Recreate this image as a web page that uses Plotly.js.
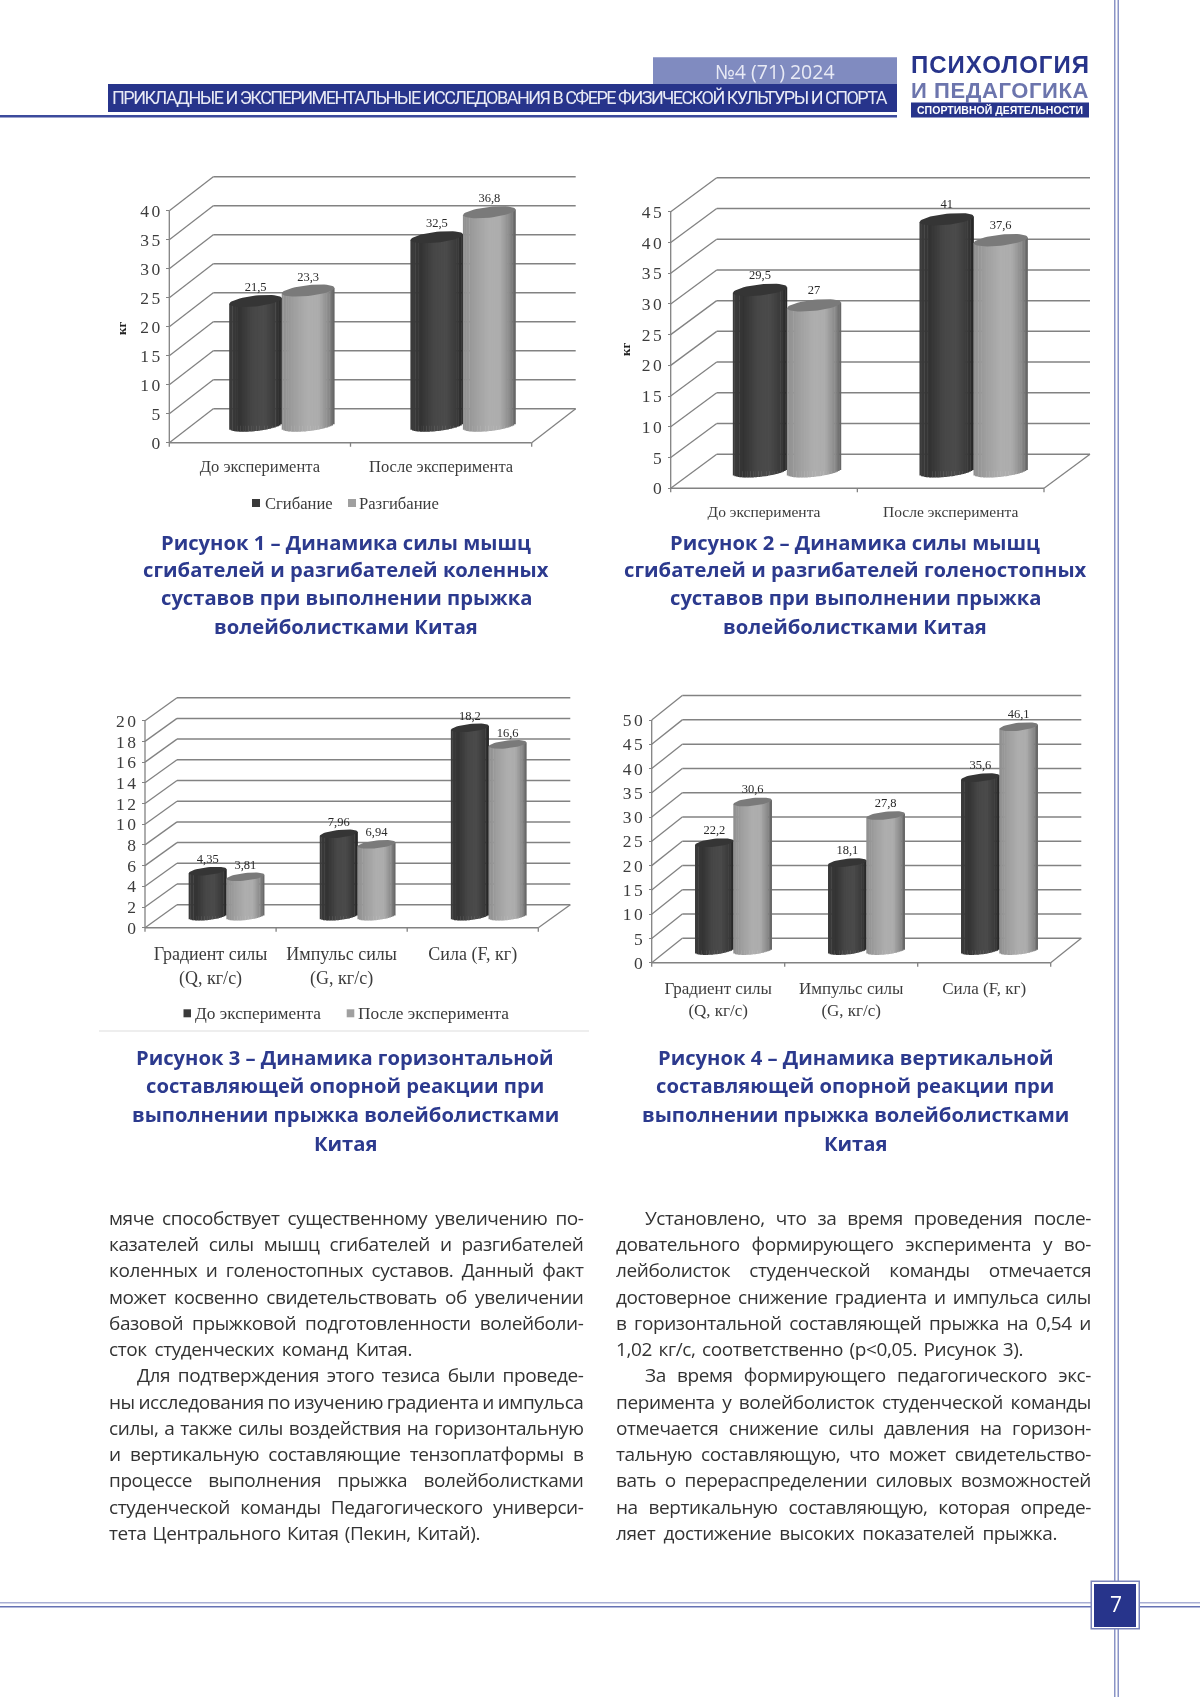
<!DOCTYPE html>
<html><head><meta charset="utf-8">
<script src="https://cdn.plot.ly/plotly-3.0.1.min.js"></script>
<style>html,body{margin:0;padding:0;background:#fff}#gd{width:1200px;height:1697px;filter:blur(0.35px)}</style>
</head><body><div id="gd"></div>
<script>
// ---------- chart data ----------
const cats1 = ["До эксперимента", "После эксперимента"];
const names1 = ["Сгибание", "Разгибание"];
const vals1a = [21.5, 32.5];
const vals1b = [23.3, 36.8];
const ticks1 = [0, 5, 10, 15, 20, 25, 30, 35, 40];

const cats2 = ["До эксперимента", "После эксперимента"];
const names2 = ["Сгибание", "Разгибание"];
const vals2a = [29.5, 41];
const vals2b = [27, 37.6];
const ticks2 = [0, 5, 10, 15, 20, 25, 30, 35, 40, 45];

const cats3 = ["Градиент силы<br>(Q, кг/с)", "Импульс силы<br>(G, кг/с)", "Сила (F, кг)"];
const names3 = ["До эксперимента", "После эксперимента"];
const vals3a = [4.35, 7.96, 18.2];
const vals3b = [3.81, 6.94, 16.6];
const ticks3 = [0, 2, 4, 6, 8, 10, 12, 14, 16, 18, 20];

const cats4 = ["Градиент силы<br>(Q, кг/с)", "Импульс силы<br>(G, кг/с)", "Сила (F, кг)"];
const names4 = ["До эксперимента", "После эксперимента"];
const vals4a = [22.2, 18.1, 35.6];
const vals4b = [30.6, 27.8, 46.1];
const ticks4 = [0, 5, 10, 15, 20, 25, 30, 35, 40, 45, 50];

// ---------- page text ----------
const caption1 = ["Рисунок 1 – Динамика силы мышц", "сгибателей и разгибателей коленных", "суставов при выполнении прыжка", "волейболистками Китая"];
const caption2 = ["Рисунок 2 – Динамика силы мышц", "сгибателей и разгибателей голеностопных", "суставов при выполнении прыжка", "волейболистками Китая"];
const caption3 = ["Рисунок 3 – Динамика горизонтальной", "составляющей опорной реакции при", "выполнении прыжка волейболистками", "Китая"];
const caption4 = ["Рисунок 4 – Динамика вертикальной", "составляющей опорной реакции при", "выполнении прыжка волейболистками", "Китая"];
const bodyLeft = [
 ["мяче способствует существенному увеличению по-", 109, 583.5],
 ["казателей силы мышц сгибателей и разгибателей", 109, 583.5],
 ["коленных и голеностопных суставов. Данный факт", 109, 583.5],
 ["может косвенно свидетельствовать об увеличении", 109, 583.5],
 ["базовой прыжковой подготовленности волейболи-", 109, 583.5],
 ["сток студенческих команд Китая.", 109, 412],
 ["Для подтверждения этого тезиса были проведе-", 137, 583.5],
 ["ны исследования по изучению градиента и импульса", 109, 583.5],
 ["силы, а также силы воздействия на горизонтальную", 109, 583.5],
 ["и вертикальную составляющие тензоплатформы в", 109, 583.5],
 ["процессе выполнения прыжка волейболистками", 109, 583.5],
 ["студенческой команды Педагогического универси-", 109, 583.5],
 ["тета Центрального Китая (Пекин, Китай).", 109, 480]
];
const bodyRight = [
 ["Установлено, что за время проведения после-", 645, 1091],
 ["довательного формирующего эксперимента у во-", 616, 1091],
 ["лейболисток студенческой команды отмечается", 616, 1091],
 ["достоверное снижение градиента и импульса силы", 616, 1091],
 ["в горизонтальной составляющей прыжка на 0,54 и", 616, 1091],
 ["1,02 кг/с, соответственно (p<0,05. Рисунок 3).", 616, 1023],
 ["За время формирующего педагогического экс-", 645, 1091],
 ["перимента у волейболисток студенческой команды", 616, 1091],
 ["отмечается снижение силы давления на горизон-", 616, 1091],
 ["тальную составляющую, что может свидетельство-", 616, 1091],
 ["вать о перераспределении силовых возможностей", 616, 1091],
 ["на вертикальную составляющую, которая опреде-", 616, 1091],
 ["ляет достижение высоких показателей прыжка.", 616, 1057]
];

// ---------- layout constants ----------
const W = 1200, H = 1697;
const px = x => x / W, py = y => 1 - y / H;
const SERIF = "Liberation Serif", SANS = "Open Sans", ARIAL = "Liberation Sans", CONDENSED = "Roboto";
const NAVY = "#27348b", CHARTTXT = "#3c3c3c", GRID = "#828282";

const frames = [
 {id:"",  cats:cats1, names:names1, a:vals1a, b:vals1b, ticks:ticks1, x0:169.3, y0:442.7, yTop:210.7, xEnd:531.7,  dx:44,   dy:34,   barW:52.5, tickFont:17.5, catFont:16.5, lblFont:12.5, lblOff:13, catGap:8},
 {id:"2", cats:cats2, names:names2, a:vals2a, b:vals2b, ticks:ticks2, x0:670.7, y0:488.3, yTop:211.7, xEnd:1044,   dx:46,   dy:34,   barW:54,   tickFont:17.5, catFont:15.5, lblFont:12.5, lblOff:14, catGap:9},
 {id:"3", cats:cats3, names:names3, a:vals3a, b:vals3b, ticks:ticks3, x0:145,   y0:927.7, yTop:720.7, xEnd:538.3,  dx:32,   dy:23,   barW:37.7, tickFont:17.5, catFont:18,   lblFont:12.5, lblOff:11, catGap:10},
 {id:"4", cats:cats4, names:names4, a:vals4a, b:vals4b, ticks:ticks4, x0:651.7, y0:962.7, yTop:720,   xEnd:1050.7, dx:30.6, dy:24.4, barW:38.3, tickFont:17.5, catFont:17,   lblFont:12.5, lblOff:12, catGap:10}
];

// ---------- cylinder shading ----------
const DARK  = [[-1,"#3c3c3c"],[-0.6,"#333333"],[-0.1,"#474747"],[0.35,"#4b4b4b"],[0.8,"#383838"],[1,"#242424"]];
const LIGHT = [[-1,"#8f8f8f"],[-0.5,"#a0a0a0"],[0,"#aeaeae"],[0.4,"#adadad"],[0.8,"#888888"],[1,"#616161"]];
function hex(c){return [1,3,5].map(i=>parseInt(c.substr(i,2),16));}
function shade(stops,u){
  for(let i=1;i<stops.length;i++){
    if(u<=stops[i][0]){
      const t=(u-stops[i-1][0])/(stops[i][0]-stops[i-1][0]);
      const p=hex(stops[i-1][1]),q=hex(stops[i][1]);
      return "rgb("+p.map((v,j)=>Math.round(v+(q[j]-v)*t)).join(",")+")";
    }
  }
  return stops[stops.length-1][1];
}

const data=[], layout={
  width:W,height:H,margin:{l:0,r:0,t:0,b:0},paper_bgcolor:"#fff",plot_bgcolor:"rgba(0,0,0,0)",
  barmode:"overlay",showlegend:false,shapes:[],annotations:[],hovermode:false
};

frames.forEach(f=>{
  const n=f.cats.length, ux=(f.xEnd-f.x0)/n, ymax=f.ticks[f.ticks.length-1], uy=(f.y0-f.yTop)/ymax, pad=6;
  const xa="x"+f.id, ya="y"+f.id;
  const depX=f.dx/ux, depY=f.dy/uy;
  layout["xaxis"+f.id]={
    domain:[px(f.x0-pad),px(f.xEnd+f.dx+pad)], range:[-pad/ux,n+(f.dx+pad)/ux], anchor:"free", position:py(f.y0),
    tickmode:"array", tickvals:f.cats.map((c,i)=>i+0.5), ticktext:f.cats, ticks:"outside", ticklen:f.catGap, tickcolor:"rgba(0,0,0,0)",
    tickfont:{family:SERIF,size:f.catFont,color:CHARTTXT}, showgrid:false, zeroline:false, showline:false, fixedrange:true
  };
  layout["yaxis"+f.id]={
    domain:[py(f.y0+pad),py(f.yTop-f.dy-pad)], range:[-pad/uy,ymax+(f.dy+pad)/uy], anchor:"free", position:px(f.x0),
    tickmode:"array", tickvals:f.ticks, ticktext:f.ticks.map(v=>'<span style="letter-spacing:2.5px">'+v+'</span>'),
    ticks:"outside", ticklen:3, tickcolor:GRID, tickwidth:1,
    tickfont:{family:SERIF,size:f.tickFont,color:CHARTTXT}, showgrid:false, zeroline:false, showline:false, fixedrange:true
  };
  const line=(x1,y1,x2,y2,w)=>layout.shapes.push({type:"line",xref:xa,yref:ya,x0:x1,y0:y1,x1:x2,y1:y2,layer:"below",line:{color:GRID,width:w||1.3}});
  f.ticks.forEach(v=>{
    line(0,v,depX,v+depY);
    line(depX,v+depY,n+depX,v+depY,1.5);
  });
  line(n,0,n+depX,depY);
  line(0,0,n,0,1.5);
  line(0,0,0,ymax);
  for(let i=0;i<=n;i++) line(i,0,i,-4/uy);

  const w=f.barW/ux, midX=depX/2, midY=depY/2;
  const k=(f.barW/2)*0.105/uy, b=(f.barW/2)*0.205/uy;
  [[f.a,DARK,"#353535",-0.5,0],[f.b,LIGHT,"#7a7a7a",0.5,1]].forEach(([vals,stops,topColor,side,si])=>{
    const cx=vals.map((v,i)=>i+0.5+midX+side*w);
    data.push({type:"bar",name:f.names[si],x:cx,y:vals,base:vals.map(()=>midY),width:vals.map(()=>w*0.7),
      xaxis:xa,yaxis:ya,marker:{color:stops[2][1],line:{width:0}},hoverinfo:"skip"});
    const N=Math.max(20,Math.round(f.barW/1.6));
    const sx=[],sy=[],sb=[],sc=[],sw=[];
    vals.forEach((v,i)=>{
      for(let j=0;j<N;j++){
        const u=-1+(2*j+1)/N, bot=midY+k*u-b*Math.sqrt(1-u*u), top=v+midY+k*u;
        sx.push(cx[i]+u*w/2); sb.push(bot); sy.push(top-bot); sc.push(shade(stops,u)); sw.push(w/N*1.25);
      }
    });
    data.push({type:"bar",x:sx,y:sy,base:sb,width:sw,xaxis:xa,yaxis:ya,showlegend:false,hoverinfo:"skip",marker:{color:sc,line:{width:0}}});
    const ex=[],ey=[];
    vals.forEach((v,i)=>{
      for(let t=0;t<=48;t++){
        const c=Math.cos(t/48*2*Math.PI), s=Math.sin(t/48*2*Math.PI);
        ex.push(cx[i]+c*w/2); ey.push(v+midY+k*c+b*s);
      }
      ex.push(null); ey.push(null);
    });
    data.push({type:"scatter",mode:"lines",x:ex,y:ey,fill:"toself",fillcolor:topColor,line:{width:0,color:topColor},xaxis:xa,yaxis:ya,hoverinfo:"skip",showlegend:false});
    data.push({type:"scatter",mode:"text",x:cx,y:vals.map(v=>v+midY+f.lblOff/uy),text:vals.map(v=>String(v).replace(".",",")),
      textposition:"middle center",textfont:{family:SERIF,size:f.lblFont,color:"#2a2a2a"},xaxis:xa,yaxis:ya,cliponaxis:false,hoverinfo:"skip",showlegend:false});
  });
});

// ---------- text helpers ----------
const ctx=document.createElement("canvas").getContext("2d");
const measure=(t,size,fam,weight)=>{ctx.font=(weight||"normal")+" "+size+"px '"+fam+"'";return ctx.measureText(t).width;};
const esc=t=>t.replace(/</g,"&lt;");
function note(text,x,y,o){
  o=o||{};
  layout.annotations.push({text:text,x:px(x),y:py(y),xref:"paper",yref:"paper",showarrow:false,xanchor:o.anchor||"left",yanchor:"middle",
    align:o.anchor==="center"?"center":"left",borderpad:0,borderwidth:0,textangle:o.angle||0,
    font:{family:o.family||SERIF,size:o.size||14,color:o.color||CHARTTXT}});
}
const bold=t=>"<b>"+t+"</b>";
function justified(line,y,size,ls){
  const [t,x0,x1]=line;
  const w=measure(t,size,SANS)+ls*t.length, sp=(t.match(/ /g)||[]).length;
  const ws=sp?(x1-x0-w)/sp:0;
  note('<span style="word-spacing:'+ws.toFixed(2)+'px;letter-spacing:'+ls+'px">'+esc(t)+'</span>',x0,y,{family:SANS,size:size,color:"#333333"});
}
function fitted(t,x0,x1,y,size,fam,color,weight){
  const w=measure(t,size,fam,weight), ls=(x1-x0-w)/t.length;
  const inner='<span style="letter-spacing:'+ls.toFixed(3)+'px">'+t+'</span>';
  note(weight==="bold"?bold(inner):inner,x0,y,{family:fam,size:size,color:color});
}

// body
bodyLeft.forEach((l,i)=>justified(l,1217.8+i*26.25,19,-0.4));
bodyRight.forEach((l,i)=>justified(l,1217.8+i*26.25,19,-0.4));

// captions
const capY1=[541.5,569,597.3,626.3], capY3=[1057.3,1085.4,1113.6,1142.8];
[[caption1,346,capY1],[caption2,855,capY1],[caption3,345,capY3],[caption4,855,capY3]].forEach(([c,x,ys])=>{
  c.forEach((t,i)=>note(bold(t),x,ys[i],{anchor:"center",family:SANS,size:20.2,color:"#2c3a8e"}));
});

// axis-unit notes
note(bold("кг"),121,329,{anchor:"center",size:13,angle:-90,color:"#222"});
note(bold("кг"),625,350,{anchor:"center",size:13,angle:-90,color:"#222"});

// legends
const sq=(x0,x1,y,c)=>layout.shapes.push({type:"rect",xref:"paper",yref:"paper",x0:px(x0),x1:px(x1),y0:py(y+4),y1:py(y-4),fillcolor:c,line:{width:0}});
sq(252,260,503,"#3a3a3a"); note(names1[0],265,503,{size:16.6});
sq(348,356,503,"#a0a0a0"); note(names1[1],359,503,{size:16.6});
sq(183.5,191,1013.3,"#3a3a3a"); note(names3[0],195,1013.3,{size:17.3});
sq(346.7,354.3,1013.3,"#a0a0a0"); note(names3[1],358,1013.3,{size:17.3});

// page furniture
const rect=(x0,y0,x1,y1,c)=>layout.shapes.push({type:"rect",xref:"paper",yref:"paper",x0:px(x0),x1:px(x1),y0:py(y1),y1:py(y0),fillcolor:c,line:{width:0}});
rect(99,1030.5,589,1031.5,"#dedede");
rect(1114,0,1115.5,H,"#8a94c6"); rect(1117.5,0,1119,H,"#8a94c6");
rect(0,1602,W,1603.5,"#a9afd4"); rect(0,1606,W,1607.5,"#6672b4");
rect(1090.5,1580.5,1140,1629.5,"#7a84bb"); rect(1092,1582,1138.5,1628,"#ffffff"); rect(1094,1584,1136,1627,NAVY);
note("7",1115.5,1604,{anchor:"center",family:SANS,size:21,color:"#fff"});

rect(653,57.3,897,84,"#808bc0");
rect(108,84,897,112,NAVY);
rect(0,115,897,117.5,"#3c4a9c");
note("№4 (71) 2024",775,71,{anchor:"center",family:SANS,size:19.5,color:"#e8eaf5"});
fitted("ПРИКЛАДНЫЕ И ЭКСПЕРИМЕНТАЛЬНЫЕ ИССЛЕДОВАНИЯ В СФЕРЕ ФИЗИЧЕСКОЙ КУЛЬТУРЫ И СПОРТА",112,886,98,18,CONDENSED,"#e8eaf5");
fitted("ПСИХОЛОГИЯ",911,1090,64.5,24,ARIAL,NAVY,"bold");
fitted("И ПЕДАГОГИКА",911,1089,90.5,22,ARIAL,"#6c75ad","bold");
rect(911,102.5,1089,117.5,NAVY);
fitted("СПОРТИВНОЙ ДЕЯТЕЛЬНОСТИ",917,1083,110,10.5,ARIAL,"#fff","bold");

Plotly.newPlot("gd",data,layout,{staticPlot:true,displayModeBar:false});
</script></body></html>
